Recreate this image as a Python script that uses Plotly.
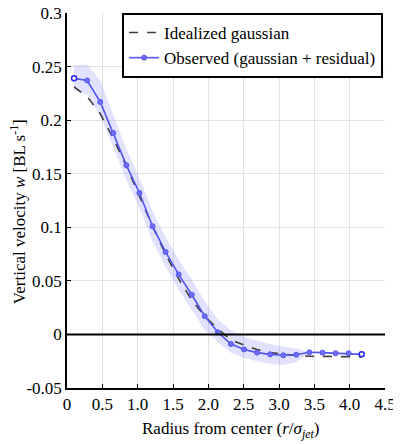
import plotly.graph_objects as go

# radius from center (r / sigma_jet)
radius = [0.10, 0.285, 0.47, 0.655, 0.84, 1.025, 1.21, 1.395, 1.58, 1.765, 1.95, 2.135,
          2.32, 2.505, 2.69, 2.875, 3.06, 3.245, 3.43, 3.615, 3.80, 3.985, 4.17]

# observed vertical velocity (gaussian + residual)
observed = [0.239, 0.237, 0.217, 0.188, 0.158, 0.132, 0.101, 0.077, 0.056, 0.037, 0.017, 0.002,
            -0.009, -0.014, -0.017, -0.0186, -0.0195, -0.019, -0.0167, -0.017, -0.0176, -0.0176, -0.0186]

# idealized gaussian
idealized = [0.231, 0.222, 0.206, 0.183, 0.157, 0.129, 0.101, 0.075, 0.052, 0.032, 0.017, 0.005,
             -0.005, -0.010, -0.014, -0.017, -0.0187, -0.0197, -0.0203, -0.0206, -0.0208, -0.0209, -0.021]

# uncertainty band around the observed profile
band_upper = [0.251, 0.252, 0.237, 0.204, 0.173, 0.146, 0.115, 0.091, 0.070, 0.051, 0.031, 0.014,
              0.004, -0.002, -0.006, -0.009, -0.0115, -0.013, -0.0167, -0.017, -0.0176, -0.0176, -0.0186]
band_lower = [0.228, 0.224, 0.204, 0.175, 0.144, 0.118, 0.087, 0.063, 0.042, 0.023, 0.004, -0.007,
              -0.017, -0.022, -0.025, -0.0275, -0.0285, -0.026, -0.0167, -0.017, -0.0176, -0.0176, -0.0186]

x_ticks = [0, 0.5, 1.0, 1.5, 2.0, 2.5, 3.0, 3.5, 4.0, 4.5]
x_ticktext = ['0', '0.5', '1.0', '1.5', '2.0', '2.5', '3.0', '3.5', '4.0', '4.5']
y_ticks = [-0.05, 0, 0.05, 0.1, 0.15, 0.2, 0.25, 0.3]
y_ticktext = ['-0.05', '0', '0.05', '0.1', '0.15', '0.2', '0.25', '0.3']

FONT = 'Liberation Serif, Times New Roman, serif'
BLUE = 'rgb(85,85,240)'

fig = go.Figure()

# shaded band
fig.add_trace(go.Scatter(
    x=radius + radius[::-1],
    y=band_upper + band_lower[::-1],
    fill='toself',
    fillcolor='rgba(150,150,250,0.28)',
    line=dict(width=0),
    hoverinfo='skip',
    showlegend=False,
))

fig.add_trace(go.Scatter(
    x=radius, y=idealized,
    mode='lines',
    name='Idealized gaussian',
    line=dict(color='rgb(60,60,60)', width=1.6, dash='dash'),
))

fig.add_trace(go.Scatter(
    x=radius, y=observed,
    mode='lines+markers',
    name='Observed (gaussian + residual)',
    line=dict(color=BLUE, width=1.6),
    marker=dict(size=5, color='rgb(110,110,248)', line=dict(color=BLUE, width=1)),
))

# hollow end markers
fig.add_trace(go.Scatter(
    x=[radius[0], radius[-1]], y=[observed[0], observed[-1]],
    mode='markers',
    marker=dict(size=5, color='white', line=dict(color='rgb(40,40,250)', width=1.5)),
    showlegend=False,
    hoverinfo='skip',
))

fig.add_hline(y=0, line=dict(color='black', width=2))

# the page body adds an 8px offset, margins are reduced by that on the left/top
fig.update_layout(
    width=401, height=444,
    margin=dict(l=59, r=24, t=5, b=64, autoexpand=False),
    plot_bgcolor='white',
    paper_bgcolor='white',
    font=dict(family=FONT, size=17, color='black'),
    legend=dict(
        x=0.994, y=1.0, xanchor='right', yanchor='top',
        bgcolor='white', bordercolor='black', borderwidth=2,
        font=dict(family=FONT, size=17),
        itemwidth=30,
        tracegroupgap=0,
    ),
    annotations=[
        dict(text='Radius from center (<i>r</i>/<i>σ<sub>jet</sub></i>)',
             xref='paper', yref='paper', x=0.516, y=-0.112,
             xanchor='center', yanchor='middle', showarrow=False,
             font=dict(family=FONT, size=17)),
        dict(text='Vertical velocity <i>w</i> [BL s<sup>-1</sup>]',
             xref='paper', yref='paper', x=-0.154, y=0.469, textangle=-90,
             xanchor='center', yanchor='middle', showarrow=False,
             font=dict(family=FONT, size=17)),
    ],
)

fig.update_xaxes(
    range=[0, 4.5],
    tickvals=x_ticks, ticktext=x_ticktext,
    showgrid=True, gridcolor='rgb(225,225,225)', gridwidth=1,
    showline=True, linecolor='black', linewidth=1.5,
    ticks='inside', ticklen=4, tickcolor='black',
    ticklabeloverflow='allow',
    zeroline=False, automargin=False,
)
fig.update_yaxes(
    range=[-0.05, 0.3],
    tickvals=y_ticks, ticktext=y_ticktext,
    showgrid=True, gridcolor='rgb(225,225,225)', gridwidth=1,
    showline=True, linecolor='black', linewidth=1.5,
    ticks='inside', ticklen=4, tickcolor='black',
    ticklabeloverflow='allow',
    zeroline=False, automargin=False,
)

fig.write_html("out.html")
